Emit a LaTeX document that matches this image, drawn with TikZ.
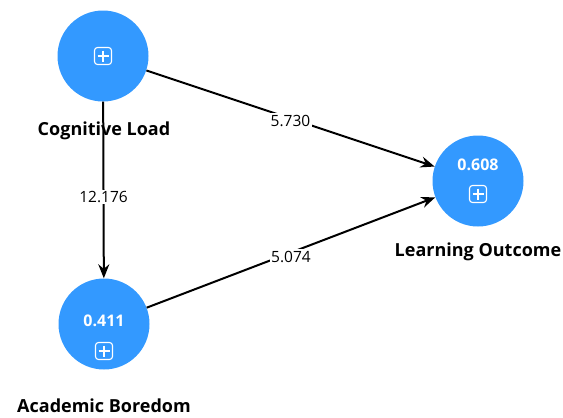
\documentclass[tikz,border=0pt]{standalone}
\usepackage{fontspec}
\setmainfont{Open Sans}
\usetikzlibrary{arrows.meta,positioning}

\definecolor{lvblue}{HTML}{3399FF}

\begin{document}
\begin{tikzpicture}[
    x=1pt, y=-1pt,
    latent/.style={circle, fill=lvblue, minimum size=91pt, inner sep=0pt},
    rsq/.style={text=white, font=\bfseries\fontsize{16}{18}\selectfont},
    iconbox/.style={draw=white, line width=1.1pt, rounded corners=3pt, minimum size=17pt, inner sep=0pt,
        path picture={\draw[white, line width=1.1pt] (path picture bounding box.center) ++(0,5.5pt) -- ++(0,-11pt)
            (path picture bounding box.center) ++(-5.5pt,0) -- ++(11pt,0);}},
    lvname/.style={font=\bfseries\fontsize{18}{20}\selectfont},
    path/.style={-{Stealth[length=14pt,width=11pt]}, line width=2pt},
    coef/.style={fill=white, inner sep=1.5pt, font=\fontsize{15.5}{18}\selectfont}
]

\useasboundingbox (0,0) rectangle (563,418);

\node[latent] (cl) at (103,56) {};
\node[latent] (ab) at (104,324) {};
\node[latent] (lo) at (478,181) {};

\node[iconbox] (cl_icon) at (103,56) {};
\node[rsq] (ab_r2) at (104,321) {0.411};
\node[iconbox] (ab_icon) at (104,351) {};
\node[rsq] (lo_r2) at (478,165) {0.608};
\node[iconbox] (lo_icon) at (478,194) {};

\node[lvname] (cl_name) at (104,131) {Cognitive Load};
\node[lvname] (ab_name) at (104,406) {Academic Boredom};
\node[lvname] (lo_name) at (478,252) {Learning Outcome};

\draw[path] (cl) -- node[coef, yshift=-7pt] {12.176} (ab);
\draw[path] (cl) -- node[coef, yshift=-2pt] {5.730} (lo);
\draw[path] (ab) -- node[coef, yshift=-4pt] {5.074} (lo);

\end{tikzpicture}
\end{document}
